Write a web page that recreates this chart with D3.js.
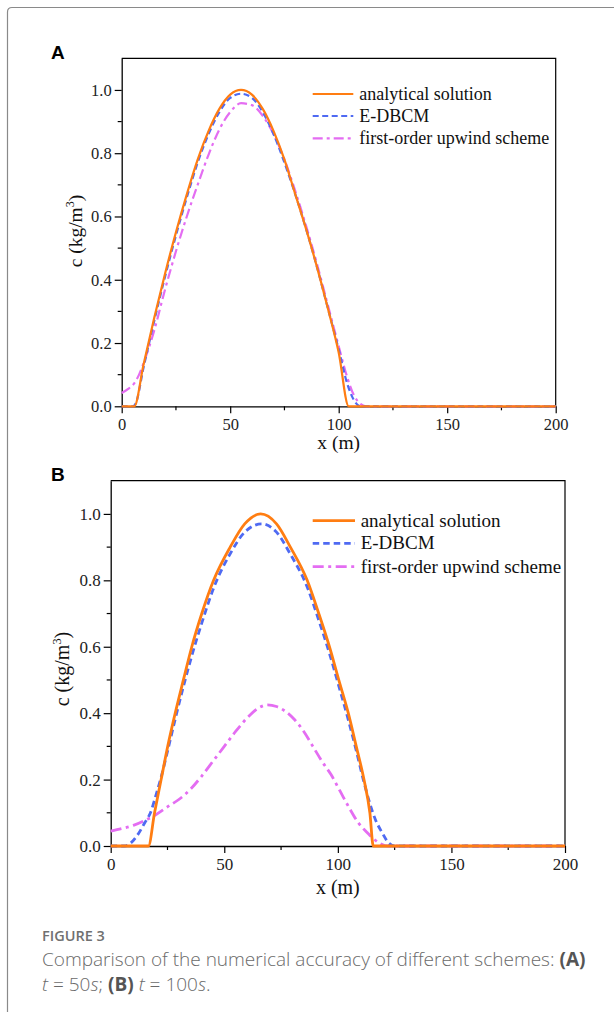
<!DOCTYPE html>
<html><head><meta charset="utf-8">
<script src="https://cdn.jsdelivr.net/npm/d3@7"></script>
<style>
body{margin:0;background:#fff;}
svg{display:block;}
</style></head>
<body>
<svg id="c" width="614" height="1012"></svg>
<script>
// ---------- data ----------
const xTicks = [0, 50, 100, 150, 200];
const yTicks = [0.0, 0.2, 0.4, 0.6, 0.8, 1.0];
const seriesNames = ["analytical solution", "E-DBCM", "first-order upwind scheme"];

// Panel A (t = 50 s)
const analyticalA = [[0,0],[5.8,0],[10,0.13],[15,0.28],[20,0.42],[25,0.55],[30,0.67],[35,0.78],[40,0.87],[45,0.94],[50,0.985],[55,1.0],[60,0.985],[65,0.94],[70,0.87],[75,0.78],[80,0.67],[85,0.56],[90,0.44],[95,0.31],[100,0.17],[104.6,0],[200,0]];
const edbcmA = [[0,0],[5,0],[6.5,0.01],[10,0.12],[15,0.27],[20,0.41],[25,0.54],[30,0.66],[35,0.77],[40,0.86],[45,0.93],[50,0.975],[55,0.988],[60,0.975],[65,0.93],[70,0.86],[75,0.77],[80,0.67],[85,0.56],[90,0.44],[95,0.31],[100,0.18],[104,0.07],[107,0.02],[110,0],[200,0]];
const upwindA = [[0,0.042],[3,0.055],[6,0.075],[8,0.1],[10,0.135],[15,0.24],[20,0.37],[25,0.49],[30,0.6],[35,0.7],[40,0.795],[45,0.875],[50,0.93],[55,0.958],[60,0.952],[65,0.918],[70,0.86],[75,0.78],[80,0.68],[85,0.57],[90,0.45],[95,0.32],[100,0.19],[104,0.09],[107,0.035],[110,0.008],[113,0],[200,0]];

// Panel B (t = 100 s)
const analyticalB = [[0,0],[16.6,0],[19.3,0.1],[22.2,0.2],[25.1,0.3],[28.4,0.4],[32,0.5],[35.7,0.6],[40.1,0.7],[45.3,0.8],[52.6,0.9],[59,0.97],[66,1.0],[73,0.97],[79.1,0.9],[86.5,0.8],[91.6,0.7],[96.3,0.6],[100.4,0.5],[104.6,0.4],[108.1,0.3],[111.5,0.2],[114.1,0.1],[115.6,0],[200,0]];
const edbcmB = [[0,0],[6,0],[9,0.01],[12,0.035],[15,0.07],[17.5,0.1],[20,0.155],[22.5,0.215],[25,0.285],[28.5,0.385],[32,0.48],[36,0.58],[40.5,0.68],[45.5,0.78],[52.6,0.88],[59,0.945],[66.5,0.97],[73,0.945],[79,0.88],[86.5,0.78],[91.6,0.68],[96.3,0.58],[100.5,0.48],[104.6,0.38],[108,0.29],[111.2,0.2],[114,0.13],[116.5,0.08],[119.5,0.04],[122,0.012],[125,0],[200,0]];
const upwindB = [[0,0.045],[5,0.053],[10,0.062],[15,0.077],[20,0.095],[25,0.118],[30,0.14],[35,0.17],[40,0.21],[45,0.255],[50,0.3],[55,0.345],[60,0.385],[65,0.415],[69,0.425],[73,0.42],[77,0.405],[81,0.38],[85,0.345],[89,0.3],[93,0.255],[97,0.215],[101,0.165],[105,0.115],[109,0.07],[113,0.04],[116,0.02],[119,0.006],[122,0],[200,0]];

// ---------- drawing ----------
const svg = d3.select("#c");
const colors = ["#ff7d12", "#4f6af2", "#e46df2"];

// outer frame
svg.append("path")
  .attr("d", "M7.5,1012 L7.5,12 Q7.5,7.5 12,7.5 L614,7.5")
  .attr("fill", "none").attr("stroke", "#8a8a8a").attr("stroke-width", 1.2);

function panel(o) {
  const x = d3.scaleLinear().domain([0, 200]).range([o.left, o.right]);
  const y = d3.scaleLinear().domain([0, 1.1]).range([o.bottom, o.top]);
  const g = svg.append("g");
  const serif = "'Liberation Serif','Times New Roman',serif";

  // frame top / right
  g.append("path")
    .attr("d", `M${o.left},${o.top} L${o.right},${o.top} L${o.right},${o.bottom}`)
    .attr("fill", "none").attr("stroke", "#000").attr("stroke-width", 1.2);

  // minor ticks
  const yMinor = d3.range(0.1, 1.1, 0.2);
  const xMinor = [25, 75, 125, 175];
  g.selectAll(".ym").data(yMinor).join("line")
    .attr("x1", o.left - 4).attr("x2", o.left)
    .attr("y1", d => y(d)).attr("y2", d => y(d))
    .attr("stroke", "#000").attr("stroke-width", 1.2);
  g.selectAll(".xm").data(xMinor).join("line")
    .attr("x1", d => x(d)).attr("x2", d => x(d))
    .attr("y1", o.bottom).attr("y2", o.bottom + 4)
    .attr("stroke", "#000").attr("stroke-width", 1.2);

  // axes
  const xa = g.append("g").attr("transform", `translate(0,${o.bottom})`)
    .call(d3.axisBottom(x).tickValues(xTicks).tickFormat(d3.format("d")).tickSize(7).tickPadding(o.xpad).tickSizeOuter(0));
  const ya = g.append("g").attr("transform", `translate(${o.left},0)`)
    .call(d3.axisLeft(y).tickValues(yTicks).tickFormat(d3.format(".1f")).tickSize(7).tickPadding(3).tickSizeOuter(0));
  [xa, ya].forEach(a => {
    a.select(".domain").attr("stroke", "#000").attr("stroke-width", 1.3);
    a.selectAll(".tick line").attr("stroke", "#000").attr("stroke-width", 1.2);
    a.selectAll("text").attr("font-family", serif).attr("font-size", o.tick).attr("fill", "#222");
  });

  // curves
  const line = d3.line().x(d => x(d[0])).y(d => y(d[1])).curve(d3.curveMonotoneX);
  const dashes = [null, o.dash, o.dashdot];
  [o.data[2], o.data[1], o.data[0]].forEach((s, k) => {
    const i = 2 - k;
    g.append("path").datum(s).attr("d", line)
      .attr("fill", "none").attr("stroke", colors[i]).attr("stroke-width", o.sw)
      .attr("stroke-dasharray", dashes[i]);
  });

  // legend
  seriesNames.forEach((n, i) => {
    const cy = o.legY[i];
    g.append("line").attr("x1", o.legX1).attr("x2", o.legX2).attr("y1", cy).attr("y2", cy)
      .attr("stroke", colors[i]).attr("stroke-width", o.sw).attr("stroke-dasharray", dashes[i]);
    g.append("text").attr("x", o.legTx).attr("y", cy + o.leg * 0.32)
      .attr("font-family", serif).attr("font-size", o.leg).attr("fill", "#111").text(n);
  });

  // axis labels
  g.append("text").attr("x", (o.left + o.right) / 2).attr("y", o.xlabY)
    .attr("text-anchor", "middle").attr("font-family", serif).attr("font-size", o.lab).attr("fill", "#111")
    .text("x (m)");
  const yl = g.append("text")
    .attr("transform", `translate(${o.ylabX},${o.ylabY}) rotate(-90)`)
    .attr("text-anchor", "middle").attr("font-family", serif).attr("font-size", o.lab).attr("fill", "#111");
  yl.append("tspan").text("c (kg/m");
  yl.append("tspan").attr("font-size", o.lab * 0.62).attr("dy", -o.lab * 0.4).text("3");
  yl.append("tspan").attr("dy", o.lab * 0.4).text(")");

  // panel letter
  svg.append("text").attr("x", o.pl[0]).attr("y", o.pl[1])
    .attr("font-family", "'Liberation Sans',Arial,sans-serif").attr("font-weight", "bold")
    .attr("font-size", 19).attr("fill", "#000").text(o.letter);
}

panel({
  letter: "A", pl: [51, 59],
  left: 121.7, right: 555.7, top: 58.3, bottom: 406.3,
  data: [analyticalA, edbcmA, upwindA],
  tick: 16.5, xpad: 5, leg: 18, lab: 19.5, sw: 2.2,
  dash: "6,3.5", dashdot: "10,4,3,4",
  legX1: 312.7, legX2: 353.3, legTx: 359.3, legY: [94, 116, 138.3],
  xlabY: 449, ylabX: 82, ylabY: 231
});
panel({
  letter: "B", pl: [51, 481],
  left: 110.7, right: 565, top: 480.7, bottom: 846,
  data: [analyticalB, edbcmB, upwindB],
  tick: 17, xpad: 5, leg: 19, lab: 20, sw: 2.8,
  dash: "6.5,4", dashdot: "11,4.5,3,4.5",
  legX1: 312.7, legX2: 355, legTx: 360.7, legY: [520.7, 543.3, 566.7],
  xlabY: 894, ylabX: 69, ylabY: 669
});

// caption
const cap = svg.append("g").attr("font-family", "'Open Sans','Noto Sans',sans-serif").attr("fill", "#6a6a6a");
cap.append("text").attr("x", 42).attr("y", 941).attr("font-size", 14.5).attr("font-weight", 600).attr("fill", "#707070").text("FIGURE 3");
const l1 = cap.append("text").attr("x", 42).attr("y", 966).attr("font-size", 19).attr("font-weight", 300);
l1.append("tspan").text("Comparison of the numerical accuracy of different schemes: ");
l1.append("tspan").attr("font-weight", 700).attr("fill", "#555").text("(A)");
const l2 = cap.append("text").attr("x", 42).attr("y", 991).attr("font-size", 19).attr("font-weight", 300);
l2.append("tspan").attr("font-style", "italic").text("t");
l2.append("tspan").text(" = 50");
l2.append("tspan").attr("font-style", "italic").text("s");
l2.append("tspan").text("; ");
l2.append("tspan").attr("font-weight", 700).attr("fill", "#555").text("(B)");
l2.append("tspan").text(" ");
l2.append("tspan").attr("font-style", "italic").text("t");
l2.append("tspan").text(" = 100");
l2.append("tspan").attr("font-style", "italic").text("s");
l2.append("tspan").text(".");
</script>
</body></html>
